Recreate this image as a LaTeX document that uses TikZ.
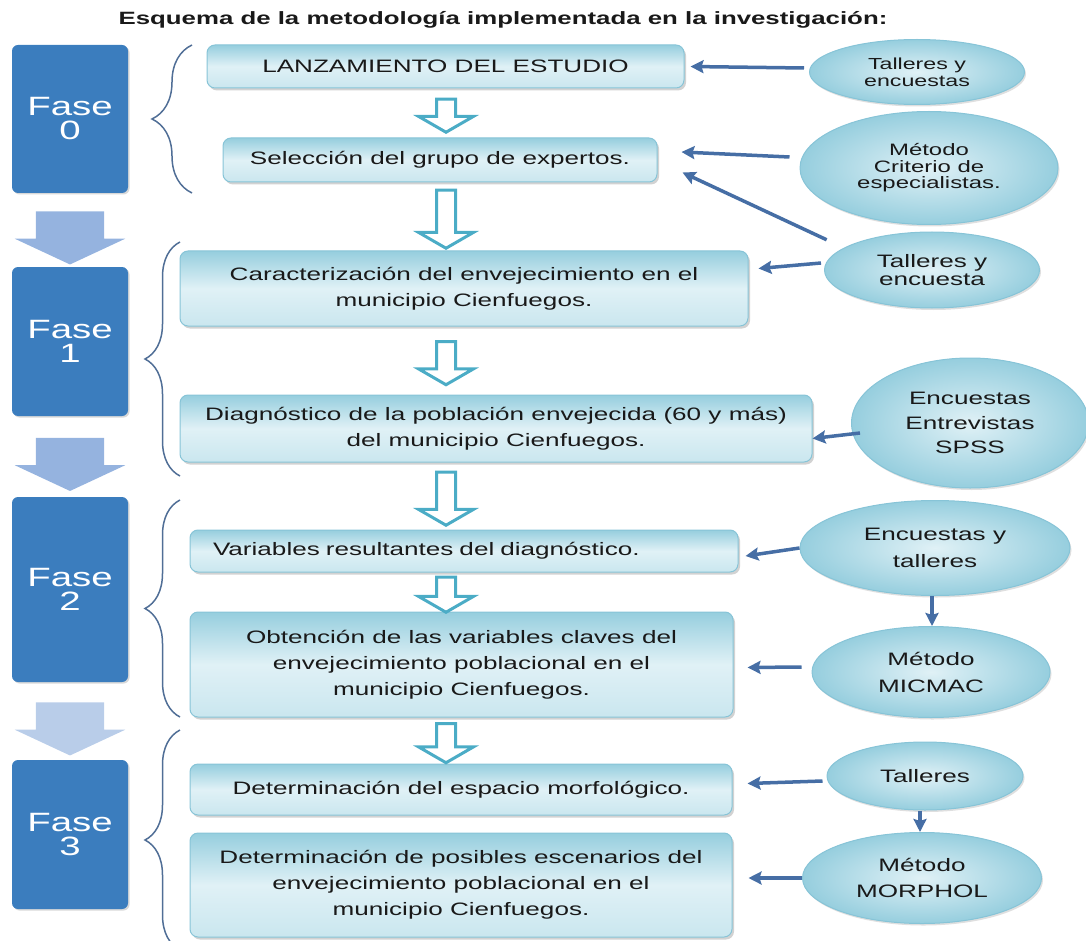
\documentclass[tikz,border=0pt]{standalone}
\usepackage{fontspec}
\setmainfont{Liberation Sans}[FakeStretch=1.45]
\usepackage{tikz}
\usetikzlibrary{shapes.geometric,shapes.arrows,arrows.meta,positioning,calc,decorations.pathreplacing,shadows}

\definecolor{azulfase}{RGB}{59,125,190}
\definecolor{azulgruesa}{RGB}{149,179,223}
\definecolor{azulpalido}{RGB}{185,205,233}
\definecolor{cianhueca}{RGB}{75,172,198}
\definecolor{bordeceleste}{RGB}{135,196,215}
\definecolor{celesteosc}{RGB}{150,206,222}
\definecolor{celesteclaro}{RGB}{224,241,246}
\definecolor{azulflecha}{RGB}{70,110,165}
\definecolor{azulllave}{RGB}{80,110,150}
\definecolor{texto}{RGB}{25,25,25}

\begin{document}
\begin{tikzpicture}[
    x=1pt, y=-1pt,
    font=\fontsize{18}{26}\selectfont, text=texto,
    fase/.style={rectangle, rounded corners=6pt, fill=azulfase, text=white, align=center, minimum width=116pt, font=\fontsize{26.5}{24}\selectfont, drop shadow={shadow xshift=1.5pt, shadow yshift=-1.5pt, fill=black!30}},
    proceso/.style={rectangle, rounded corners=8pt, draw=bordeceleste, line width=1pt, top color=celesteosc, bottom color=celesteclaro!70!celesteosc, middle color=celesteclaro, align=center, drop shadow={shadow xshift=2pt, shadow yshift=-2.5pt, fill=black!35}},
    metodo/.style={ellipse, draw=bordeceleste, line width=1pt, inner color=celesteclaro, outer color=celesteosc, align=center, inner sep=0pt, drop shadow={shadow xshift=1.5pt, shadow yshift=-2pt, fill=black!25}},
    flecha/.style={-{Stealth[length=13pt, width=13pt, inset=2pt]}, line width=3.5pt, draw=azulflecha},
    hueca/.style={single arrow, draw=cianhueca, line width=3pt, fill=white, rotate=-90, inner xsep=0pt, inner ysep=8pt, single arrow head extend=18pt, single arrow tip angle=120},
    gruesa/.style={single arrow, fill=azulgruesa, rotate=-90, inner xsep=0pt, inner ysep=34pt, single arrow head extend=21pt, single arrow tip angle=130, minimum height=53pt},
    llave/.style={decorate, decoration={brace, amplitude=#1}, draw=azulllave, line width=1.5pt}
]
    \useasboundingbox (0,0) rectangle (1086,941);

    % Title
    \node[font=\fontsize{17.8}{20}\selectfont\bfseries] (titulo) at (503,20) {Esquema de la metodología implementada en la investigación:};

    % Phases
    \node[fase, minimum height=148pt] (f0) at (70,119) {Fase\\0};
    \node[fase, minimum height=149pt] (f1) at (70,341.5) {Fase\\1};
    \node[fase, minimum height=185pt] (f2) at (70,589.5) {Fase\\2};
    \node[fase, minimum height=149pt] (f3) at (70,834.5) {Fase\\3};

    \node[gruesa] (g1) at ($(f0.south)!.5!(f1.north)$) {};
    \node[gruesa] (g2) at ($(f1.south)!.5!(f2.north)$) {};
    \node[gruesa, fill=azulpalido] (g3) at ($(f2.south)!.5!(f3.north)$) {};

    % Braces
    \draw[llave=40pt] (192,193) -- (192,45);
    \draw[llave=35pt] (180,476) -- (180,242);
    \draw[llave=35pt] (180,717) -- (180,500);
    \draw[llave=35pt] (180,950) -- (180,730);

    % Steps
    \node[proceso, minimum width=477pt, minimum height=43pt] (b1) at (445.5,66.5) {LANZAMIENTO DEL ESTUDIO};
    \node[proceso, minimum width=434pt, minimum height=44pt] (b2) at (440,160) {Selección del grupo de expertos.};
    \node[proceso, minimum width=568pt, minimum height=75pt] (b3) at (464,288.5) {Caracterización del envejecimiento en el\\municipio Cienfuegos.};
    \node[proceso, minimum width=632pt, minimum height=67pt] (b4) at (496,428.5) {Diagnóstico de la población envejecida (60 y más)\\del municipio Cienfuegos.};
    \node[proceso, minimum width=548pt, minimum height=42pt, text width=502pt, align=left] (b5) at (464,551) {Variables resultantes del diagnóstico.};
    \node[proceso, minimum width=543pt, minimum height=105pt] (b6) at (461.5,664.5) {Obtención de las variables claves del\\envejecimiento poblacional en el\\municipio Cienfuegos.};
    \node[proceso, minimum width=542pt, minimum height=51pt] (b7) at (461,789.5) {Determinación del espacio morfológico.};
    \node[proceso, minimum width=542pt, minimum height=104pt] (b8) at (461,885) {Determinación de posibles escenarios del\\envejecimiento poblacional en el\\municipio Cienfuegos.};

    % Hollow arrows between steps
    \coordinate (eje) at (446,0);
    \foreach \a/\b/\l in {b1/b2/33, b2/b3/58, b3/b4/43, b4/b5/53, b5/b6/35, b6/b7/39}{
        \path ($(\a.south)!.5!(\b.north)$) coordinate (m);
        \node[hueca, minimum height=\l pt] at (m -| eje) {};
    }

    % Methods
    \node[metodo, minimum width=215pt, minimum height=65pt, font=\fontsize{16}{17}\selectfont] (e1) at (917,72) {Talleres y\\encuestas};
    \node[metodo, minimum width=258pt, minimum height=113pt, font=\fontsize{16.5}{16.5}\selectfont] (e2) at (929,168) {Método\\Criterio de\\especialistas.};
    \node[metodo, minimum width=215pt, minimum height=76pt, font=\fontsize{18}{18}\selectfont] (e3) at (932,270) {Talleres y\\encuesta};
    \node[metodo, minimum width=237pt, minimum height=130pt, font=\fontsize{18}{24.5}\selectfont] (e4) at (970,423) {Encuestas\\Entrevistas\\SPSS};
    \node[metodo, minimum width=270pt, minimum height=95pt, font=\fontsize{18}{27}\selectfont] (e5) at (935,548) {Encuestas y\\talleres};
    \node[metodo, minimum width=238pt, minimum height=91pt, font=\fontsize{18}{27}\selectfont] (e6) at (931,672) {Método\\MICMAC};
    \node[metodo, minimum width=196pt, minimum height=68pt] (e7) at (925,776) {Talleres};
    \node[metodo, minimum width=239pt, minimum height=91pt, font=\fontsize{18}{26}\selectfont] (e8) at (922,878) {Método\\MORPHOL};

    % Arrows
    \draw[flecha] ([xshift=-5pt,yshift=4pt]e1.west) -- ([xshift=6pt]b1.east);
    \draw[flecha] ([xshift=-10pt,yshift=11pt]e2.west) -- ([xshift=24pt,yshift=8pt]b2.east);
    \draw[flecha] ([xshift=-29pt,yshift=3pt]e3.north west) -- ([xshift=25pt,yshift=10pt]b2.south east);
    \draw[flecha] ([xshift=-3pt,yshift=7pt]e3.west) -- ([xshift=10pt,yshift=20pt]b3.east);
    \draw[flecha] ([xshift=9pt,yshift=-10pt]e4.west) -- ([yshift=-10pt]b4.east);
    \draw[flecha] (e5.west) -- ([xshift=7pt,yshift=-5pt]b5.east);
    \draw[flecha] ([xshift=-10pt,yshift=5pt]e6.west) -- ([xshift=14pt,yshift=-3pt]b6.east);
    \draw[flecha] ([xshift=-3pt]e5.south) -- ([xshift=-3pt]e5.south |- e6.north);
    \draw[flecha] ([xshift=-4pt,yshift=-5pt]e7.west) -- ([xshift=15pt,yshift=6pt]b7.east);
    \draw[flecha] ([xshift=-5pt]e7.south) -- ([xshift=-5pt]e7.south |- e8.north);
    \draw[flecha] (e8.west) -- ([xshift=16pt,yshift=7pt]b8.east);
\end{tikzpicture}
\end{document}
